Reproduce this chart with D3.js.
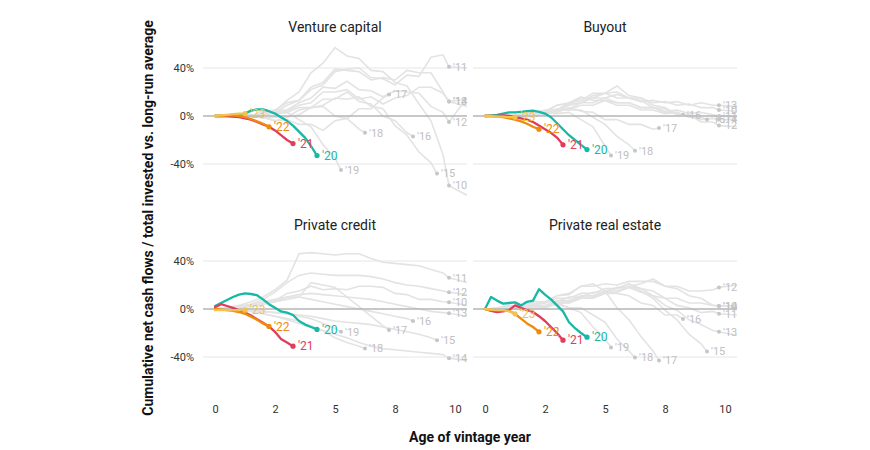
<!DOCTYPE html>
<html lang="en">
<head>
<meta charset="UTF-8">
<title>Cumulative net cash flows by vintage</title>
<script src="https://cdnjs.cloudflare.com/ajax/libs/d3/7.8.5/d3.min.js"></script>
<style>
  body { margin: 0; background: #fff; }
  text { font-family: Roboto, "Noto Sans", sans-serif; }
</style>
</head>
<body>
<div id="chart"></div>
<script>
// panel titles, vintage labels, tick labels
var panelNames = ["Venture capital", "Buyout", "Private credit", "Private real estate"];
var grayVintages = ["'10", "'11", "'12", "'13", "'14", "'15", "'16", "'17", "'18", "'19"];
var recentVintages = ["'20", "'21", "'22", "'23"];
var recentColors = ["#17b8a6", "#e03c5b", "#ef8a0c", "#f2c14e"];
var yTicks = [-40, 0, 40];
var xTicks = [0, 2.5, 5, 7.5, 10];
var xTickLabels = ["0", "2", "5", "8", "10"];

// last observed age of each older vintage (half-year points up to this, then this one)
var grayEnd = [9.75, 9.75, 9.75, 9.75, 9.75, 9.25, 8.25, 7.25, 6.25, 5.25];

// older vintages, % values every half year, then the labelled point (and 10.5 for '10-'14)
var vcGray = [
  [0,0,1,0,3,4,13,20,36,44,57,50,48,38,37,28,25,10,-4,-32,-58,-66],
  [0,0,1,0,4,5,11,13,22,26,37,39,40,32,31,26,34,33,49,51,41,40],
  [0,0,-1,1,1,5,5,11,15,24,23,29,22,21,16,21,20,19,8,3,-5,15],
  [0,0,1,0,3,3,9,13,24,28,39,38,37,30,32,30,38,36,36,20,12,8],
  [0,0,0,1,0,4,4,9,11,20,20,22,14,16,10,15,17,24,24,19,12,14],
  [0,0,1,-1,-1,-4,-1,1,7,9,15,14,16,8,6,-8,-16,-30,-39,-48],
  [0,0,0,1,-2,-1,-1,5,7,14,14,20,12,10,0,-4,-14,-17],
  [0,0,1,-1,-1,-4,-3,-7,-7,-12,-4,-2,6,6,15,18],
  [0,0,0,1,0,3,3,7,7,8,0,-2,-11,-14],
  [0,0,1,0,3,2,3,-3,-9,-24,-35,-45]
];
var buyoutGray = [
  [0,0,0,1,2,5,5,10,11,15,15,18,15,15,11,12,9,10,7,7,5,4],
  [0,0,1,0,2,1,5,5,9,9,13,11,11,7,7,4,5,2,3,1,0,-1],
  [0,0,-1,0,-1,3,4,9,11,17,19,25,17,15,9,7,1,1,-5,-5,-8,-9],
  [0,0,1,1,4,4,9,10,15,15,19,15,15,12,13,11,12,9,11,9,9,8],
  [0,0,0,1,0,4,5,11,13,19,19,20,15,13,7,6,1,1,-3,-2,-3,-3],
  [0,0,1,0,2,1,5,6,11,11,15,11,11,7,7,3,3,-1,-1,-3],
  [0,0,1,1,3,3,9,11,16,13,13,9,9,5,5,2,3,1],
  [0,0,0,1,0,3,3,7,4,3,-3,-3,-7,-7,-11,-10],
  [0,0,1,0,2,2,6,5,5,-1,-7,-17,-24,-29],
  [0,0,0,1,0,3,2,3,-3,-9,-25,-33]
];
var creditGray = [
  [0,0,1,2,5,7,13,15,19,16,17,16,19,19,18,13,12,8,8,6,5.6,3],
  [0,1,3,6,10,16,24,46,47,46,45,46,46,42,39,38,37,36,33,30,26,22],
  [0,1,2,4,8,14,22,28,30,29,28,28,28,27,25,22,20,19,17,15,14,12],
  [0,0,1,2,4,6,10,12,13,12,11,10,9,8,6,4,2,0,-2,-3,-3.6,-6],
  [0,0,-1,-2,-4,-6,-9,-12,-15,-18,-21,-24,-28,-31,-33,-34,-35,-36,-37,-38,-41,-43],
  [0,0,0,-1,-2,-3,-4,-5,-6,-8,-10,-11,-12,-13,-15,-17,-19,-21,-24,-26],
  [0,1,2,4,6,8,10,10,8,6,4,2,0,-2,-4,-6,-8,-10],
  [0,1,2,3,4,6,8,10,22,20,18,10,2,-6,-14,-17.5],
  [0,0,-1,-2,-4,-6,-8,-10,-14,-18,-24,-28,-31,-33],
  [0,0,0,-1,-2,-3,-4,-6,-8,-12,-16,-19]
];
var estateGray = [
  [0,0,2,1,5,5,9,9,13,13,17,17,21,17,15,9,9,5,5,3,2.5,3],
  [0,1,0,3,2,6,6,10,10,14,14,18,18,17,11,9,3,1,-3,-2,-4,-5],
  [0,1,3,2,6,6,11,12,19,19,21,20,23,23,23,19,19,15,15,16,18,20],
  [0,0,1,0,3,2,6,6,10,10,14,14,18,14,11,3,-1,-9,-13,-18,-19,-22],
  [0,0,1,0,3,3,7,7,11,11,15,15,19,21,25,19,17,11,9,3,2.5,2],
  [0,0,1,0,3,2,5,5,9,9,15,17,21,15,9,-1,-9,-21,-29,-35.5],
  [0,0,1,0,2,1,5,5,9,9,13,13,11,5,3,-5,-5,-8.3],
  [0,0,1,0,4,5,11,13,19,21,15,1,-9,-23,-35,-43],
  [0,0,1,-1,2,1,4,1,1,-5,-11,-25,-35,-40.5],
  [0,0,1,0,3,2,5,1,-3,-15,-25,-32]
];

// recent vintages '20-'23, % values every quarter from age 0
var vcRecent = [
  [0,0,0,0,0.5,2,4.5,5.5,5.5,4,2,-1,-4,-8,-13,-18,-25,-33],
  [0,0,0,-0.5,-1,-2,-3,-5,-7,-9,-12,-16,-20,-23],
  [0,0,0.5,0.5,0,-1,-2.5,-4.5,-6.5,-9],
  [0,0.5,1,1.5,2,2]
];
var buyoutRecent = [
  [0,0.5,1,2,3,3,3.5,4,4.5,3.5,2,-1,-6,-11,-16,-20,-24,-28],
  [0,0,0,0.5,0,-1,-2,-3,-5,-8,-11,-14,-18,-24],
  [0,0,-0.5,-1,-2,-3,-4.5,-6.5,-9,-11],
  [0,0,-0.5,-0.5,-1,-1]
];
var creditRecent = [
  [2.5,5,7.5,10,12,13,12.5,11.5,8,4,1,-2,-3,-5,-10,-13,-15,-17],
  [1.4,4,2.5,1,-1,-3,-5.5,-8.5,-11.5,-14.5,-19,-25,-28,-31],
  [0,-0.5,-1,-1.5,-2.5,-4,-6.5,-9,-12,-14.5],
  [-1,-1,-1,-1,-1,-1]
];
var estateRecent = [
  [0,10,7,4.5,5,5.5,3,6,7,16.5,12,8,3,-2,-11,-16,-20,-23.5],
  [0,-1.5,-2.5,-2,-1,3,1,-1,-2.5,-6,-10,-15,-20,-26],
  [0,-1,-1,-1,-1.5,-4,-8,-12,-15,-19],
  [0,-0.5,-1,-1,-2,-4]
];

var grayData = [vcGray, buyoutGray, creditGray, estateGray];
var recentData = [vcRecent, buyoutRecent, creditRecent, estateRecent];

var width = 870, height = 450;
var panelW = 264, panelH = 144;
var panelX = [203, 473, 203, 473];
var panelY = [44, 44, 237, 237];

var svg = d3.select("#chart").append("svg")
    .attr("width", width)
    .attr("height", height);

var x = d3.scaleLinear().domain([-0.5, 10.5]).range([0, panelW]);
var y = d3.scaleLinear().domain([-60, 60]).range([panelH, 0]);

var line = d3.line()
    .x(function(d) { return x(d[0]); })
    .y(function(d) { return y(d[1]); });

// ages for an older vintage: half years up to its end, then the end, then 10.5
function grayPoints(vals, end) {
  var n = Math.floor(end / 0.5) + 1;
  return vals.map(function(v, i) {
    var age = i < n ? i * 0.5 : (i === n ? end : 10.5);
    return [age, v];
  });
}
function recentPoints(vals) {
  return vals.map(function(v, i) { return [i * 0.25, v]; });
}

svg.append("defs").append("clipPath").attr("id", "panel-clip")
  .append("rect")
    .attr("x", 0).attr("y", -40)
    .attr("width", panelW).attr("height", panelH + 80);

panelNames.forEach(function(name, p) {
  var g = svg.append("g")
      .attr("transform", "translate(" + panelX[p] + "," + panelY[p] + ")");

  g.append("text")
      .attr("x", panelW / 2)
      .attr("y", p < 2 ? -12 : -7)
      .attr("text-anchor", "middle")
      .style("font-size", "14px")
      .style("fill", "#222")
      .text(name);

  // grid
  g.selectAll(".grid")
    .data(yTicks.filter(function(t) { return t !== 0; }))
    .enter().append("line")
      .attr("x1", 0).attr("x2", panelW)
      .attr("y1", function(d) { return y(d); })
      .attr("y2", function(d) { return y(d); })
      .style("stroke", "#e6e6e6")
      .style("stroke-width", 1);

  if (p % 2 === 0) {
    var yAxis = g.append("g")
        .attr("transform", "translate(-6,0)")
        .call(d3.axisLeft(y).tickValues(yTicks).tickSize(0)
              .tickFormat(function(d) { return d + "%"; }));
    yAxis.select(".domain").remove();
    yAxis.selectAll("text")
        .style("font-size", "11px")
        .style("font-family", "Roboto, sans-serif")
        .style("fill", "#333");
  }
  if (p >= 2) {
    var xAxis = g.append("g")
        .attr("transform", "translate(0," + (panelH + 21) + ")")
        .call(d3.axisBottom(x).tickValues(xTicks).tickSize(0)
              .tickFormat(function(d, i) { return xTickLabels[i]; }));
    xAxis.select(".domain").remove();
    xAxis.selectAll("text")
        .style("font-size", "11px")
        .style("font-family", "Roboto, sans-serif")
        .style("fill", "#333");
  }

  var gray = grayData[p].map(function(vals, i) { return grayPoints(vals, grayEnd[i]); });

  g.append("g").attr("clip-path", "url(#panel-clip)")
    .selectAll("path")
    .data(gray)
    .enter().append("path")
      .attr("d", line)
      .style("fill", "none")
      .style("stroke", "#e3e3e3")
      .style("stroke-width", 1.6);

  // zero line
  g.append("line")
      .attr("x1", 0).attr("x2", panelW)
      .attr("y1", y(0)).attr("y2", y(0))
      .style("stroke", "#b5b5b5")
      .style("stroke-width", 1.6);

  var grayEnds = gray.map(function(pts, i) {
    var n = Math.floor(grayEnd[i] / 0.5) + 1;
    return { pt: pts[n], label: grayVintages[i] };
  });
  g.selectAll(".gdot")
    .data(grayEnds)
    .enter().append("circle")
      .attr("cx", function(d) { return x(d.pt[0]); })
      .attr("cy", function(d) { return y(d.pt[1]); })
      .attr("r", 2)
      .style("fill", "#c6c6c6");
  g.selectAll(".glab")
    .data(grayEnds)
    .enter().append("text")
      .attr("x", function(d) { return x(d.pt[0]) + 4; })
      .attr("y", function(d) { return y(d.pt[1]); })
      .attr("dy", "0.35em")
      .style("font-size", "11px")
      .style("fill", "#c0c0c0")
      .text(function(d) { return d.label; });

  var recent = recentData[p].map(recentPoints);
  var rg = g.append("g");
  rg.selectAll("path")
    .data(recent)
    .enter().append("path")
      .attr("d", line)
      .style("fill", "none")
      .style("stroke", function(d, i) { return recentColors[i]; })
      .style("stroke-width", 2.3)
      .style("stroke-linejoin", "round")
      .style("stroke-linecap", "round");

  var recentEnds = recent.map(function(pts, i) {
    return { pt: pts[pts.length - 1], label: recentVintages[i], color: recentColors[i] };
  });
  rg.selectAll("circle")
    .data(recentEnds)
    .enter().append("circle")
      .attr("cx", function(d) { return x(d.pt[0]); })
      .attr("cy", function(d) { return y(d.pt[1]); })
      .attr("r", 2.6)
      .style("fill", function(d) { return d.color; });
  rg.selectAll("text")
    .data(recentEnds)
    .enter().append("text")
      .attr("x", function(d) { return x(d.pt[0]) + 5; })
      .attr("y", function(d) { return y(d.pt[1]); })
      .attr("dy", "0.35em")
      .style("font-size", "12px")
      .style("fill", function(d) { return d.color; })
      .text(function(d) { return d.label; });
});

svg.append("text")
    .attr("transform", "translate(153,218) rotate(-90)")
    .attr("text-anchor", "middle")
    .style("font-size", "14px")
    .style("font-weight", "bold")
    .style("fill", "#111")
    .text("Cumulative net cash flows / total invested vs. long-run average");

svg.append("text")
    .attr("x", 470)
    .attr("y", 442)
    .attr("text-anchor", "middle")
    .style("font-size", "14px")
    .style("font-weight", "bold")
    .style("fill", "#111")
    .text("Age of vintage year");
</script>
</body>
</html>
